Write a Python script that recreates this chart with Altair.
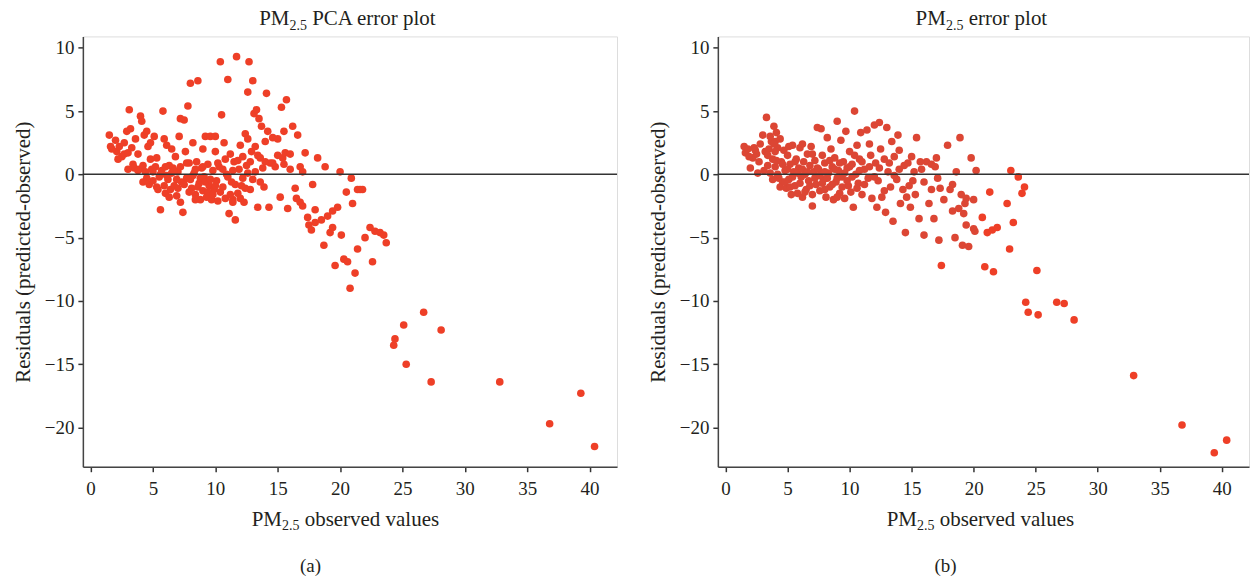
import altair as alt
import pandas as pd

# ---------------- Panel (a): PCA residuals ----------------
a_x = [1.5,1.6,2.0,2.1,2.3,2.5,2.7,2.9,3.0,3.1,3.2,3.3,3.4,3.5,3.6,3.8,3.9,4.0,4.1,4.2,
       4.3,4.4,4.5,4.6,4.7,4.8,4.9,5.0,5.1,5.2,5.3,5.5,5.6,5.7,5.8,5.9,6.0,6.1,6.2,6.3,
       6.4,6.5,6.6,6.7,6.8,6.9,7.0,7.1,7.2,7.3,7.4,7.5,7.6,7.7,7.8,7.9,8.0,8.1,8.2,8.3,
       8.4,8.5,8.6,8.7,8.8,8.9,9.0,9.1,9.2,9.3,9.4,9.5,9.6,9.7,9.8,9.9,10.0,10.1,10.2,10.3,
       10.4,10.5,10.6,10.7,10.8,10.9,11.0,11.1,11.2,11.3,11.4,11.5,11.6,11.7,11.8,11.9,12.0,12.1,12.2,12.3,
       12.4,12.5,12.6,12.7,12.8,12.9,13.0,13.1,13.2,13.3,13.4,13.5,13.6,13.7,13.8,13.9,14.0,14.1,14.3,14.4,
       14.6,14.8,15.0,15.2,15.3,15.4,15.5,15.6,15.7,15.8,16.0,16.2,16.4,16.6,16.8,17.0,17.2,17.4,17.5,17.7,
       17.8,18.0,18.2,18.5,18.7,18.8,19.0,19.2,19.4,19.6,19.8,20.0,20.1,20.3,20.5,20.6,20.8,20.9,21.0,21.2,
       21.4,21.6,21.8,22.4,22.6,22.8,23.2,23.5,23.7,24.3,24.4,25.1,25.3,26.7,27.3,28.1,32.8,36.8,39.3,40.4,
       4.5,5.0,5.4,5.6,5.9,6.1,6.3,6.5,6.7,6.9,7.0,7.2,7.5,7.7,7.9,8.0,8.2,8.4,8.6,8.8,
       9.0,9.2,9.4,9.6,9.8,10.0,10.2,10.4,10.6,10.8,11.0,11.2,11.4,11.6,11.8,12.0,12.2,12.4,12.6,12.8,
       13.0,13.2,13.4,13.6,14.0,14.2,14.6,15.0,15.5,16.0,16.5,7.2,8.4,9.0,10.0,11.4,12.6,6.0,5.3,4.8,
       4.2,3.8,3.0,2.7,2.2,1.7,19.4,18.0,16.8,17.0,21.4,22.0]
a_y = [3.1,2.2,2.7,1.8,2.2,1.4,1.6,3.4,1.7,5.1,3.6,2.1,0.8,0.5,2.8,1.6,0.4,4.6,4.2,0.7,
       3.1,0.2,3.4,2.2,-0.8,1.2,0.4,-0.5,3.0,0.6,-1.0,-0.2,-2.8,0.3,5.0,2.8,-1.5,2.3,-0.4,0.7,
       -1.2,2.0,0.5,-0.9,1.4,-1.7,0.2,3.0,4.4,-0.6,-3.0,4.3,1.8,-0.3,5.4,0.9,7.2,-1.1,2.5,0.1,
       -1.6,1.0,7.4,-0.7,-2.0,0.5,-1.3,-0.2,3.0,-1.8,0.8,-0.9,3.0,-2.0,0.3,-1.2,1.8,-0.5,-2.1,0.6,
       8.9,4.7,-1.0,2.5,-1.9,0.0,7.5,-3.1,1.6,-0.6,-2.0,1.0,-3.6,9.3,-1.5,0.4,2.3,-0.9,1.4,-2.2,
       3.2,0.7,6.5,8.9,-1.2,1.8,7.4,4.8,0.2,5.1,-2.6,4.4,1.3,3.8,0.5,-1.0,2.6,6.4,-2.6,0.9,
       2.9,0.6,1.5,-1.8,5.3,1.3,3.4,1.7,5.9,-2.7,0.4,3.8,-1.1,3.1,-2.2,0.2,1.7,-3.4,-4.0,-4.4,
       -0.8,-2.8,1.3,-3.6,-5.6,0.6,-3.3,-4.6,-4.2,-7.2,-2.6,0.2,-4.8,-6.7,-1.4,-6.9,-9.0,-0.3,-2.3,-7.8,
       -5.9,-1.2,-1.2,-4.2,-6.9,-4.5,-4.6,-4.8,-5.4,-13.5,-13.0,-11.9,-15.0,-10.9,-16.4,-12.3,-16.4,-19.7,-17.3,-21.5,
       -0.3,0.2,-1.2,0.0,-0.9,-0.1,-1.8,0.1,0.3,-0.4,-1.1,0.6,-0.8,0.9,-1.4,-0.4,-0.1,0.4,-1.0,-0.3,
       0.6,-0.6,-1.4,-0.4,-1.6,-0.9,0.9,-1.4,0.4,1.2,-0.2,-1.6,0.3,-0.8,1.1,-1.9,-0.3,-1.1,0.1,1.0,
       -0.4,2.2,1.5,-0.6,1.0,3.4,0.9,2.8,0.8,1.6,-1.9,-2.2,-2.0,2.0,3.0,-2.2,2.8,0.6,1.3,2.5,
       -0.6,0.3,0.4,2.5,1.2,2.0,-2.9,-3.8,0.6,-2.5,-1.2,-5.0]

# ---------------- Panel (b): residuals ----------------
b_x = [1.5,1.6,1.8,2.0,2.2,2.3,2.5,2.7,2.8,3.0,3.1,3.2,3.3,3.4,3.5,3.6,3.7,3.8,3.9,4.0,
       4.1,4.2,4.3,4.4,4.5,4.6,4.7,4.8,4.9,5.0,5.1,5.2,5.3,5.4,5.5,5.6,5.7,5.8,5.9,6.0,
       6.1,6.2,6.3,6.4,6.5,6.6,6.7,6.8,6.9,7.0,7.1,7.2,7.3,7.4,7.5,7.6,7.7,7.8,7.9,8.0,
       8.1,8.2,8.3,8.4,8.5,8.6,8.7,8.8,8.9,9.0,9.1,9.2,9.3,9.4,9.5,9.6,9.7,9.8,9.9,10.0,
       10.1,10.2,10.3,10.4,10.5,10.6,10.7,10.8,10.9,11.0,11.2,11.4,11.5,11.7,11.8,12.0,12.1,12.3,12.4,12.5,
       12.6,12.8,12.9,13.0,13.1,13.3,13.4,13.5,13.6,13.8,14.0,14.1,14.3,14.4,14.5,14.7,14.9,15.0,15.1,15.3,
       15.4,15.6,15.8,16.0,16.2,16.4,16.6,16.8,17.0,17.2,17.3,17.4,17.6,17.9,18.1,18.3,18.5,18.6,18.8,18.9,
       19.0,19.1,19.3,19.4,19.6,19.8,20.0,20.1,20.2,20.7,20.9,21.1,21.3,21.5,21.6,21.9,22.7,22.9,23.0,23.2,
       23.6,23.9,24.1,24.2,24.4,25.2,25.1,26.7,27.3,28.1,32.9,36.8,39.4,40.4,
       3.4,3.8,4.0,4.2,4.4,4.6,4.8,5.0,5.2,5.4,5.6,5.8,6.0,6.2,6.4,6.6,6.8,7.0,7.2,7.4,
       7.6,7.8,8.0,8.2,8.4,8.6,8.8,9.0,9.2,9.4,9.6,9.8,10.0,10.2,10.4,10.6,10.8,11.0,11.2,11.6,
       12.0,12.4,12.8,13.2,13.6,14.0,14.6,15.2,16.0,16.6,4.0,3.6,3.9,4.1,2.6,5.1,6.2,7.0,8.0,9.0,
       2.4,1.9,12.2,13.9,11.6,15.7,17.1,18.3,19.4,20.0,14.8,16.9,19.2]
b_y = [2.2,1.7,2.0,0.5,1.3,2.1,1.6,1.0,2.4,3.1,0.3,1.8,4.5,0.7,2.0,0.1,2.6,1.2,3.8,0.6,
       3.3,2.1,-0.3,2.8,1.0,-0.6,1.9,0.3,-1.1,1.5,-0.4,0.8,-1.6,2.3,0.2,-0.9,1.2,-1.5,0.5,2.1,
       -0.2,-1.8,1.0,0.0,-1.2,1.6,-0.5,0.7,2.2,-2.5,0.2,1.1,-0.8,3.7,0.4,-1.3,3.6,1.5,-0.4,0.9,
       -1.8,2.9,0.1,-1.0,2.0,0.6,-2.0,1.3,-0.6,4.2,0.3,-1.5,2.7,-0.2,1.0,-1.9,3.4,0.5,-0.9,1.8,
       -1.4,0.8,-2.6,5.0,0.0,2.3,-0.7,1.2,3.3,-1.6,0.4,3.5,-0.3,1.5,-1.9,3.9,0.9,-0.5,4.1,2.0,
       -1.8,1.2,-3.0,3.7,0.2,-1.0,2.6,-3.7,1.4,-0.4,1.9,-2.3,-1.2,0.7,-4.6,0.9,-2.6,1.4,-0.5,-1.6,
       2.9,-3.5,0.4,-4.8,1.0,-2.3,0.8,-3.5,1.3,-5.2,-1.1,-7.2,-2.0,2.3,-1.2,-2.9,-5.0,0.2,-2.7,2.9,
       -1.6,-5.6,-2.3,-4.0,-5.7,1.3,-4.3,-4.5,0.3,-3.4,-7.3,-4.6,-1.4,-4.4,-7.7,-4.2,-2.3,-5.9,0.3,-3.8,
       -0.2,-1.5,-1.0,-10.1,-10.9,-11.1,-7.6,-10.1,-10.2,-11.5,-15.9,-19.8,-22.0,-21.0,
       1.5,-0.4,1.8,0.0,-1.0,0.8,-0.6,0.4,-1.0,-0.2,1.0,0.1,-0.7,0.4,-1.4,0.2,-0.9,1.6,-0.3,0.5,
       -0.1,-0.7,0.2,-0.3,1.1,-0.8,0.4,-0.3,0.9,-1.0,0.1,-0.5,0.6,-0.2,1.5,-1.1,0.3,1.0,-0.8,0.6,
       -0.2,0.5,-1.3,0.9,-0.1,0.4,-1.8,0.2,-0.6,-1.2,2.6,3.0,2.4,1.1,0.1,2.2,2.4,-1.6,-1.2,-1.8,
       1.9,1.4,-2.6,3.1,2.4,1.0,-0.3,-0.8,-1.9,-2.0,-0.9,0.6,-3.1]

x_ticks = [0, 5, 10, 15, 20, 25, 30, 35, 40]
y_ticks = [-20, -15, -10, -5, 0, 5, 10]

FONT = "Liberation Serif"
TXT = "#231F20"
MAIN = 21
SUB = 14

# Times-compatible advance widths (per em) used to lay out the subscripted titles
ADV = {" ": .25, "P": .556, "M": .889, "C": .667, "A": .722, "e": .444, "r": .333,
       "o": .5, "p": .5, "l": .278, "t": .278, "b": .5, "s": .389, "v": .5, "d": .5,
       "a": .444, "u": .5, "2": .5, "5": .5, ".": .25}


def tw(s, size):
    return sum(ADV.get(c, .5) for c in s) * size


def rich(pre, sub, post, cx, ybase):
    """Text 'pre' + subscript 'sub' + space + 'post', centred at cx (pixels in plot coords)."""
    gap = tw(" ", MAIN)
    total = tw(pre, MAIN) + tw(sub, SUB) + gap + tw(post, MAIN)
    x0 = cx - total / 2
    pieces = [(pre, x0, ybase, MAIN),
              (sub, x0 + tw(pre, MAIN), ybase + 4.5, SUB),
              (post, x0 + tw(pre, MAIN) + tw(sub, SUB) + gap, ybase, MAIN)]
    layers = []
    for txt, xx, yy, fs in pieces:
        layers.append(
            alt.Chart(pd.DataFrame({"t": [txt]})).mark_text(
                font=FONT, fontSize=fs, color=TXT, align="left", baseline="alphabetic"
            ).encode(x=alt.value(xx), y=alt.value(yy), text="t:N")
        )
    return layers


def panel(xs, ys, title_post, label, w, dark_cluster):
    df = pd.DataFrame({"x": xs, "y": ys})
    xenc = alt.X("x:Q", scale=alt.Scale(domain=[-0.62, 42.2], nice=False, zero=False),
                 axis=alt.Axis(values=x_ticks, title=None, grid=False,
                               tickSize=5, tickWidth=1.5, tickColor="#333333",
                               domainColor="#444444", domainWidth=1.5,
                               labelFont=FONT, labelFontSize=19, labelColor=TXT, labelPadding=8))
    yenc = alt.Y("y:Q", scale=alt.Scale(domain=[-23.1, 10.9], nice=False, zero=False),
                 axis=alt.Axis(values=y_ticks, title="Residuals (predicted-observed)", grid=False,
                               tickSize=5, tickWidth=1.5, tickColor="#333333",
                               domainColor="#444444", domainWidth=1.5,
                               labelFont=FONT, labelFontSize=19, labelColor=TXT, labelPadding=4,
                               titleFont=FONT, titleFontSize=21, titleFontWeight="normal",
                               titleColor=TXT, titlePadding=11))
    if dark_cluster:
        col = alt.condition("datum.x < 20.4 && datum.y > -6", alt.value("#DC4634"), alt.value("#EE3F27"))
    else:
        col = alt.value("#EE3F27")
    pts = alt.Chart(df).mark_circle(size=58, opacity=1).encode(x=xenc, y=yenc, color=col)
    zero = alt.Chart(pd.DataFrame({"y": [0]})).mark_rule(color="#333333", strokeWidth=1.5).encode(y="y:Q")
    lab = alt.Chart(pd.DataFrame({"t": [label]})).mark_text(
        font=FONT, fontSize=19, color=TXT, baseline="middle", align="center"
    ).encode(x=alt.value(228), y=alt.value(530), text="t:N")
    title_layers = rich("PM", "2.5", title_post, w / 2 - 2, -11)
    xtitle_layers = rich("PM", "2.5", "observed values", 263, 490)
    return alt.layer(pts, zero, lab, *title_layers, *xtitle_layers).properties(width=w, height=431)


pa = panel(a_x, a_y, "PCA error plot", "(a)", 535, False)
pb = panel(b_x, b_y, "error plot", "(b)", 532, True)

chart = alt.hconcat(pa, pb, spacing=27).properties(
    padding={"left": 11, "top": 7, "right": 0, "bottom": 0}
).configure_view(stroke="#9a9a9a", strokeWidth=1.5).configure(background="white")

chart.save("out.html", embed_options={"renderer": "svg", "actions": False})
